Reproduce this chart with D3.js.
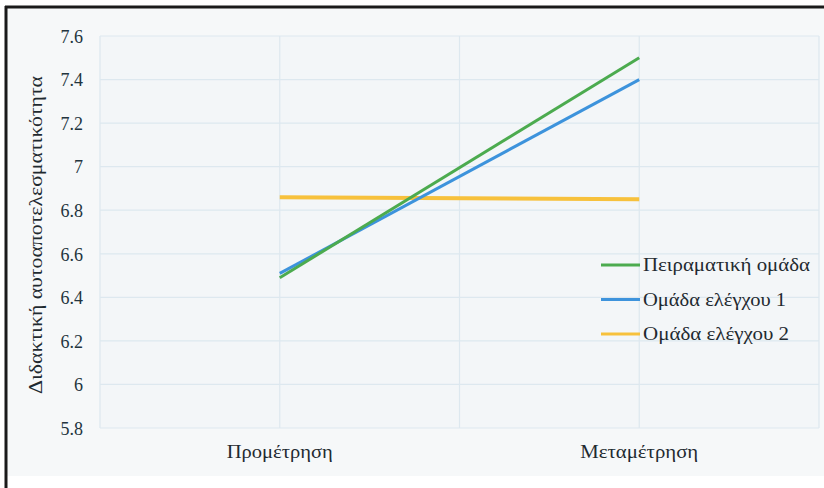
<!DOCTYPE html>
<html>
<head>
<meta charset="utf-8">
<script src="https://cdn.jsdelivr.net/npm/d3@7"></script>
<style>
  html, body { margin: 0; padding: 0; background: #ffffff; }
  svg { display: block; }
</style>
</head>
<body>
<svg id="chart" width="824" height="488"></svg>
<script>
// Measurement points (x categories)
const phases = ["Προμέτρηση", "Μεταμέτρηση"];

// Group names as shown in the legend
const groups = ["Πειραματική ομάδα", "Ομάδα ελέγχου 1", "Ομάδα ελέγχου 2"];

// Mean teaching self-efficacy per group, per phase
const experimental = [6.49, 7.50];
const control1 = [6.51, 7.40];
const control2 = [6.86, 6.85];

// Y-axis tick values
const yTicks = [5.8, 6, 6.2, 6.4, 6.6, 6.8, 7, 7.2, 7.4, 7.6];

const yTitle = "Διδακτική αυτοαποτελεσματικότητα";

const FONT = "'Liberation Serif', 'Times New Roman', Tinos, 'Noto Serif', 'DejaVu Serif', serif";
const TEXT = "#1f2a30";
const colors = ["#4cab4f", "#3d93dc", "#f7c13c"];
const seriesValues = [experimental, control1, control2];

const svg = d3.select("#chart");

// Framed chart panel
svg.append("rect")
  .attr("x", 7).attr("y", 7).attr("width", 817).attr("height", 469)
  .attr("fill", "#f6f8f9");
svg.append("line")
  .attr("x1", 5).attr("x2", 824).attr("y1", 7).attr("y2", 7)
  .attr("stroke", "#1a1a1a").attr("stroke-width", 3);
svg.append("line")
  .attr("x1", 6).attr("x2", 6).attr("y1", 6).attr("y2", 488)
  .attr("stroke", "#1a1a1a").attr("stroke-width", 3);

const plot = { left: 100, right: 819, top: 36, bottom: 428 };

const x = d3.scaleBand()
  .domain(phases)
  .range([plot.left, plot.right])
  .paddingInner(0).paddingOuter(0);

const y = d3.scaleLinear()
  .domain([5.8, 7.6])
  .range([plot.bottom, plot.top]);

// Plot area background
svg.append("rect")
  .attr("x", plot.left).attr("y", plot.top)
  .attr("width", plot.right - plot.left).attr("height", plot.bottom - plot.top)
  .attr("fill", "#f3f6f8");

// Horizontal gridlines
const grid = svg.append("g");
grid.selectAll("line.h")
  .data(yTicks)
  .join("line")
  .attr("class", "h")
  .attr("x1", plot.left).attr("x2", plot.right)
  .attr("y1", d => y(d)).attr("y2", d => y(d))
  .attr("stroke", "#dde8ef").attr("stroke-width", 1.2);

// Vertical gridlines at band edges and band centres
const vx = [];
phases.forEach(p => {
  vx.push(x(p));
  vx.push(x(p) + x.bandwidth() / 2);
});
vx.push(plot.right);
grid.selectAll("line.v")
  .data(vx)
  .join("line")
  .attr("class", "v")
  .attr("x1", d => d).attr("x2", d => d)
  .attr("y1", plot.top).attr("y2", plot.bottom)
  .attr("stroke", "#dde8ef").attr("stroke-width", 1.2);

// Y axis labels
const yAxis = d3.axisLeft(y)
  .tickValues(yTicks)
  .tickSize(0)
  .tickPadding(0)
  .tickFormat(d => d3.format("")(+d.toFixed(1)));
const gy = svg.append("g")
  .attr("transform", `translate(${plot.left - 17},0)`)
  .call(yAxis)
  .attr("font-family", FONT);
gy.select(".domain").remove();
gy.selectAll("text")
  .attr("font-size", 18)
  .attr("dy", "0.35em")
  .style("font-family", FONT)
  .style("fill", "#23343e");

// X axis labels
const xAxis = d3.axisBottom(x).tickSize(0).tickPadding(0);
const gx = svg.append("g")
  .attr("transform", `translate(0,${plot.bottom + 17})`)
  .call(xAxis)
  .attr("font-family", FONT);
gx.select(".domain").remove();
gx.selectAll("text")
  .attr("font-size", 18)
  .attr("dy", "0.71em")
  .attr("textLength", (d, i) => i === 0 ? 106 : 118)
  .attr("lengthAdjust", "spacingAndGlyphs")
  .style("font-family", FONT)
  .style("fill", TEXT);

// Y axis title
svg.append("text")
  .attr("transform", `translate(42,${(plot.top + plot.bottom) / 2 + 3}) rotate(-90)`)
  .attr("text-anchor", "middle")
  .attr("font-size", 18)
  .attr("textLength", 318)
  .attr("lengthAdjust", "spacingAndGlyphs")
  .style("font-family", FONT)
  .style("fill", TEXT)
  .text(yTitle);

// Series lines
const lineGen = d3.line()
  .x((d, i) => x(phases[i]) + x.bandwidth() / 2)
  .y(d => y(d));

svg.append("g")
  .selectAll("path")
  .data(seriesValues.map((v, i) => ({ v, i })).reverse())
  .join("path")
  .attr("d", d => lineGen(d.v))
  .attr("fill", "none")
  .attr("stroke", d => colors[d.i])
  .attr("stroke-width", d => d.i === 2 ? 4 : 3)
  .attr("stroke-linecap", "butt");

// Legend
const legendWidths = [167, 143, 146];
const legend = svg.append("g").attr("transform", "translate(601,265)");
const rows = legend.selectAll("g")
  .data(groups)
  .join("g")
  .attr("transform", (d, i) => `translate(0,${i * 34.5})`);
rows.append("line")
  .attr("x1", 0).attr("x2", 39)
  .attr("y1", 0).attr("y2", 0)
  .attr("stroke", (d, i) => colors[i])
  .attr("stroke-width", 3);
rows.append("text")
  .attr("x", 42)
  .attr("dy", "0.35em")
  .attr("font-size", 18)
  .attr("textLength", (d, i) => legendWidths[i])
  .attr("lengthAdjust", "spacingAndGlyphs")
  .style("font-family", FONT)
  .style("fill", TEXT)
  .text(d => d);
</script>
</body>
</html>
